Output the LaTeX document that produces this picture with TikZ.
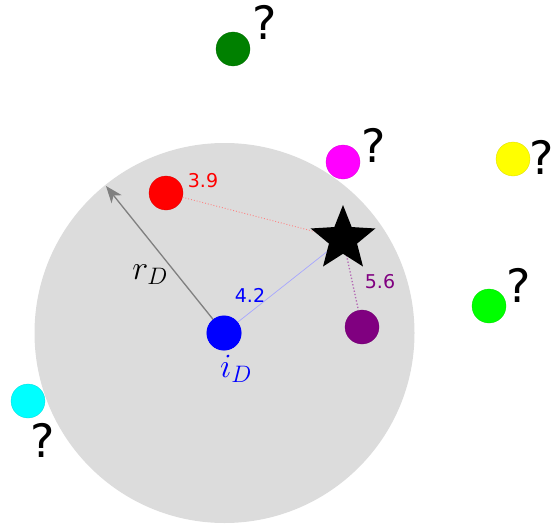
\RequirePackage{fix-cm}
\documentclass[tikz,border=0pt]{standalone}
\usepackage{fontspec}
\newfontfamily\dejavu{DejaVu Sans}
\usetikzlibrary{shapes.geometric,arrows.meta}
\definecolor{disc}{HTML}{DCDCDC}
\definecolor{dkgreen}{HTML}{008000}
\definecolor{ltgreen}{HTML}{00FF00}
\definecolor{purp}{HTML}{800080}
\definecolor{mag}{HTML}{FF00FF}
\definecolor{cyn}{HTML}{00FFFF}
\definecolor{yel}{HTML}{FFFF00}
\definecolor{rd}{HTML}{FF0000}
\definecolor{bl}{HTML}{0000FF}
\tikzset{
  dot/.style={circle,inner sep=0pt,minimum size=34pt,fill=#1,draw=#1!85!black,line width=0.3pt},
  qmark/.style={font=\dejavu\fontsize{46}{46}\selectfont,inner sep=0pt},
  dist/.style={font=\dejavu\fontsize{19}{19}\selectfont,inner sep=0pt,text=#1},
  mathlbl/.style={font=\fontsize{34}{34}\selectfont,inner sep=0pt,text=#1},
}
\begin{document}
\begin{tikzpicture}[x=1pt,y=-1pt]
\useasboundingbox (0,0) rectangle (551,527);
\fill[disc] (224.5,333) circle (190);
% dots and lines
\coordinate (s) at (343,239);
\node[dot=bl] (b) at (224,333) {};
\node[dot=rd] (r) at (166,193) {};
\node[dot=purp] (p) at (362,327) {};
\node[dot=mag] (m) at (343,162) {};
\node[dot=yel] (y) at (513,159) {};
\node[dot=dkgreen] (g) at (233,49) {};
\node[dot=ltgreen] (lg) at (489,306) {};
\node[dot=cyn] (c) at (28,401) {};
\draw[rd!50,dotted,line width=0.9pt] (r) -- (s);
\draw[bl!35,line width=0.7pt] (b) -- (s);
\draw[purp!60,dotted,line width=1.3pt] (s) -- (p);
\node[star,star points=5,star point ratio=2.3,minimum size=68pt,inner sep=0pt,fill=black] (st) at (s) {};
% radius arrow
\coordinate (re) at (106,186);
\draw[gray,line width=1.3pt,-{Stealth[length=17pt,width=13pt,inset=5pt]}] (b.center) -- (re);
\fill[bl] (224,333) circle (17.5);
% labels
\node[dist=rd] at (203,181) {3.9};
\node[dist=bl] at (250,295) {4.2};
\node[dist=purp] at (380,282) {5.6};
\node[mathlbl=black] (rdl) at (150,275) {$r_D$};
\node[mathlbl=bl] (idl) at (236,369) {$i_D$};
\node[qmark] (q1) at (265,22) {?};
\node[qmark] (q2) at (374,145) {?};
\node[qmark] (q3) at (542,157) {?};
\node[qmark] (q4) at (519,285) {?};
\node[qmark] (q5) at (43,440) {?};
\end{tikzpicture}
\end{document}
